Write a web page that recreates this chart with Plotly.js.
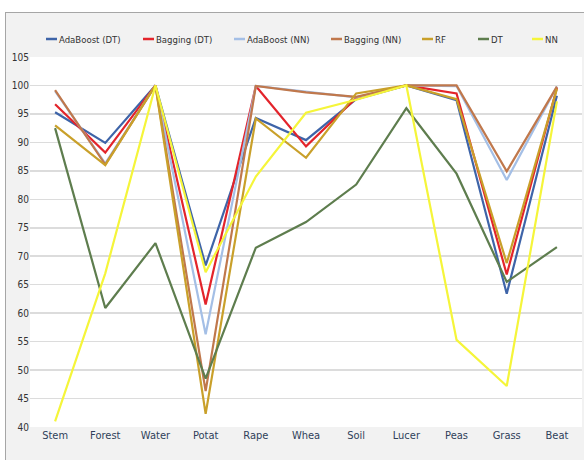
<!DOCTYPE html>
<html>
<head>
<meta charset="utf-8">
<script src="https://cdn.plot.ly/plotly-3.0.1.min.js"></script>
<style>
html,body{margin:0;padding:0;background:#ffffff;}
#frame{position:absolute;left:5px;top:12px;width:578px;height:447px;border:1px solid #a6a6a6;background:#f2f2f2;}
#chart{width:578px;height:447px;}
</style>
</head>
<body>
<div id="frame"><div id="chart"></div></div>
<script>
const categories = ["Stem","Forest","Water","Potat","Rape","Whea","Soil","Lucer","Peas","Grass","Beat"];
const adaBoostDT = [95.3, 89.9, 100, 68.4, 94.3, 90.4, 97.6, 100, 97.4, 63.4, 98.2];
const baggingDT  = [96.7, 88.2, 100, 61.5, 99.9, 89.3, 97.8, 100, 98.6, 66.8, 99.6];
const adaBoostNN = [99.0, 86.3, 100, 56.3, 99.9, 98.9, 97.9, 100, 99.9, 83.4, 99.8];
const baggingNN  = [99.2, 86.1, 100, 46.3, 99.9, 98.8, 98.0, 100, 100, 84.9, 99.8];
const rf         = [93.0, 86.0, 100, 42.3, 94.2, 87.3, 98.6, 100, 97.6, 68.8, 99.4];
const dt         = [92.5, 60.9, 72.3, 48.5, 71.5, 76.0, 82.6, 96.0, 84.5, 65.5, 71.6];
const nn         = [41.0, 67.0, 100, 67.2, 84.0, 95.2, 97.5, 100, 55.3, 47.2, 97.2];

const seriesNames = ["AdaBoost (DT)","Bagging (DT)","AdaBoost (NN)","Bagging (NN)","RF","DT","NN"];
const seriesData = [adaBoostDT, baggingDT, adaBoostNN, baggingNN, rf, dt, nn];
const colors = ["#3e64a8","#e3242b","#a4bfe6","#c0784c","#c9a02a","#5e7d4e","#f5f53a"];

const FONT = "'DejaVu Sans Condensed','Liberation Sans Narrow','Liberation Sans',sans-serif";

const traces = seriesNames.map((name, i) => ({
  type: 'scatter',
  mode: 'lines',
  name: name,
  x: categories,
  y: seriesData[i],
  line: {color: colors[i], width: 2.2}
}));

// Legend layout (pixel positions of each legend line start, converted to paper coords)
const plotLeft = 30, plotWidth = 552, plotTop = 57, plotHeight = 370;
const legendStartsPx = [46, 143, 234, 331, 422, 478, 532];
const legendYPx = 39;
const px2x = p => (p - plotLeft) / plotWidth;
const legY = 1 + (plotTop - legendYPx) / plotHeight;

const shapes = [];
const annotations = [];
seriesNames.forEach((name, i) => {
  const s = legendStartsPx[i];
  shapes.push({
    type: 'line', xref: 'paper', yref: 'paper',
    x0: px2x(s), x1: px2x(s + 11), y0: legY, y1: legY,
    line: {color: colors[i], width: 2.5}
  });
  annotations.push({
    xref: 'paper', yref: 'paper', x: px2x(s + 11), y: legY,
    xanchor: 'left', yanchor: 'middle', showarrow: false,
    text: name,
    font: {family: FONT, size: 9.5, color: '#333333'}
  });
});

const layout = {
  width: 578,
  height: 447,
  margin: {l: 24, r: 2, t: 44, b: 33},
  paper_bgcolor: '#f2f2f2',
  plot_bgcolor: '#ffffff',
  font: {family: FONT, size: 10, color: '#333333'},
  showlegend: false,
  shapes: shapes,
  annotations: annotations,
  xaxis: {
    type: 'category',
    range: [-0.5, 10.5],
    showgrid: false,
    zeroline: false,
    showline: false,
    ticks: '',
    tickfont: {family: FONT, size: 11, color: '#2f3f5a'},
    fixedrange: true
  },
  yaxis: {
    range: [40, 105],
    dtick: 5,
    tick0: 40,
    showgrid: true,
    gridcolor: '#dcdcdc',
    gridwidth: 1.5,
    zeroline: false,
    showline: false,
    ticks: '',
    ticklen: 0,
    tickfont: {family: FONT, size: 10, color: '#333333'},
    fixedrange: true
  }
};

Plotly.newPlot('chart', traces, layout, {displayModeBar: false, staticPlot: true});
</script>
</body>
</html>
